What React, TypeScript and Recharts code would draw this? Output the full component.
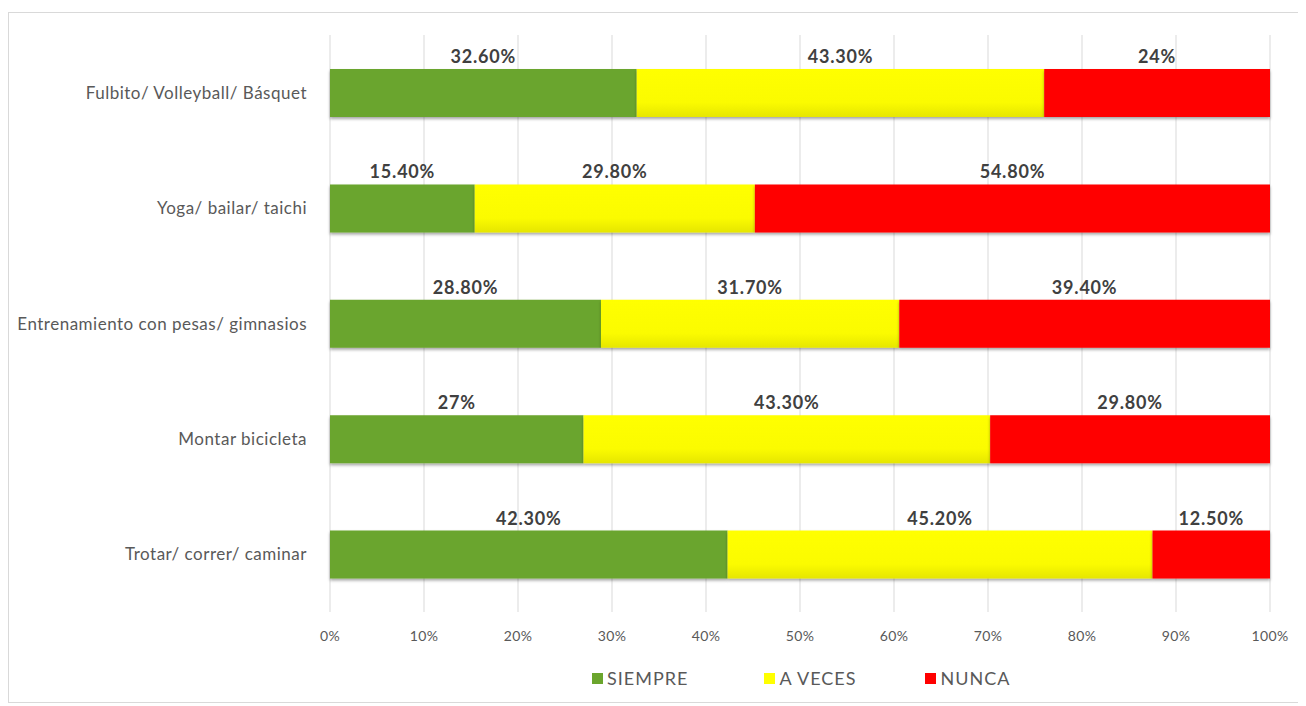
import { BarChart, Bar, XAxis, YAxis, CartesianGrid, Legend, LabelList } from 'recharts'

// Categorías (de arriba hacia abajo) y porcentajes por respuesta
const categories = [
  'Fulbito/ Volleyball/ Básquet',
  'Yoga/ bailar/  taichi',
  'Entrenamiento con pesas/ gimnasios',
  'Montar bicicleta',
  'Trotar/ correr/ caminar',
]
const siempre = [32.6, 15.4, 28.8, 27, 42.3]
const aVeces = [43.3, 29.8, 31.7, 43.3, 45.2]
const nunca = [24, 54.8, 39.4, 29.8, 12.5]

// Etiquetas tal como aparecen en el gráfico
const siempreLabels = ['32.60%', '15.40%', '28.80%', '27%', '42.30%']
const aVecesLabels = ['43.30%', '29.80%', '31.70%', '43.30%', '45.20%']
const nuncaLabels = ['24%', '54.80%', '39.40%', '29.80%', '12.50%']

const xTicks = [0, 0.1, 0.2, 0.3, 0.4, 0.5, 0.6, 0.7, 0.8, 0.9, 1]

const FONT = 'Lato, "Open Sans", sans-serif'

const GREEN = '#6ba52d'
const YELLOW = '#ffff00'
const RED = '#ff0000'

const data = categories.map((name, i) => ({
  name,
  siempre: siempre[i],
  aVeces: aVeces[i],
  nunca: nunca[i],
}))

const legendItems = [
  { label: 'SIEMPRE', color: GREEN, gap: 76 },
  { label: 'A VECES', color: YELLOW, gap: 69 },
  { label: 'NUNCA', color: RED, gap: 0 },
]

// ── Etiqueta de valor centrada sobre el segmento ─────────────
function makeLabel(labels: string[]) {
  return (props: any) => {
    const vb = props.viewBox ?? props
    const x = Number(vb.x ?? props.x)
    const y = Number(vb.y ?? props.y)
    const w = Number(vb.width ?? props.width)
    const i = props.index
    if (i == null || Number.isNaN(x)) return null
    return (
      <text
        x={x + w / 2}
        y={y - 6}
        textAnchor="middle"
        fontFamily={FONT}
        fontWeight={700}
        fontSize={18}
        letterSpacing={0.8}
        fill="#404040"
      >
        {labels[i]}
      </text>
    )
  }
}

function LegendContent() {
  return (
    <div style={{ display: 'flex', alignItems: 'center', paddingLeft: 583, fontFamily: FONT }}>
      {legendItems.map((it) => (
        <div key={it.label} style={{ display: 'flex', alignItems: 'center', marginRight: it.gap }}>
          <span
            style={{ width: 11, height: 11, background: it.color, display: 'inline-block', marginRight: 4 }}
          />
          <span style={{ fontSize: 18, letterSpacing: 1, color: '#595959' }}>{it.label}</span>
        </div>
      ))}
    </div>
  )
}

export default function App() {
  return (
    <div
      style={{
        marginTop: 4,
        width: 1290,
        height: 689,
        border: '1px solid #d9d9d9',
        background: '#fff',
        position: 'relative',
      }}
    >
      <BarChart
        width={1290}
        height={689}
        data={data}
        layout="vertical"
        stackOffset="expand"
        margin={{ top: 22, right: 29, bottom: 50, left: 0 }}
      >
        <defs>
          <linearGradient id="gradYellow" x1="0" y1="0" x2="0" y2="1">
            <stop offset="0%" stopColor="#ffff00" />
            <stop offset="70%" stopColor="#fbfb00" />
            <stop offset="100%" stopColor="#e6e600" />
          </linearGradient>
          <filter id="barShadow" x="-5%" y="-20%" width="110%" height="150%">
            <feDropShadow dx="0" dy="2" stdDeviation="1.5" floodColor="#000" floodOpacity="0.35" />
          </filter>
        </defs>

        <CartesianGrid horizontal={false} stroke="#d9d9d9" />
        <XAxis
          type="number"
          domain={[0, 1]}
          ticks={xTicks}
          tickFormatter={(v: number) => `${Math.round(v * 100)}%`}
          axisLine={false}
          tickLine={false}
          tickSize={0}
          tickMargin={19}
          height={40}
          tick={{ fill: '#595959', fontSize: 14, fontFamily: FONT, letterSpacing: 0.4 }}
        />
        <YAxis
          type="category"
          dataKey="name"
          width={321}
          axisLine={false}
          tickLine={false}
          tickSize={0}
          tickMargin={23}
          tick={{ fill: '#595959', fontSize: 17, fontFamily: FONT, letterSpacing: 0.5 }}
        />
        <Legend
          layout="horizontal"
          verticalAlign="middle"
          wrapperStyle={{ top: 654, left: 0, width: 1290 }}
          content={<LegendContent />}
        />

        <Bar dataKey="siempre" stackId="a" fill={GREEN} barSize={48} filter="url(#barShadow)" isAnimationActive={false}>
          <LabelList content={makeLabel(siempreLabels)} />
        </Bar>
        <Bar dataKey="aVeces" stackId="a" fill="url(#gradYellow)" barSize={48} filter="url(#barShadow)" isAnimationActive={false}>
          <LabelList content={makeLabel(aVecesLabels)} />
        </Bar>
        <Bar dataKey="nunca" stackId="a" fill={RED} barSize={48} filter="url(#barShadow)" isAnimationActive={false}>
          <LabelList content={makeLabel(nuncaLabels)} />
        </Bar>
      </BarChart>
    </div>
  )
}
